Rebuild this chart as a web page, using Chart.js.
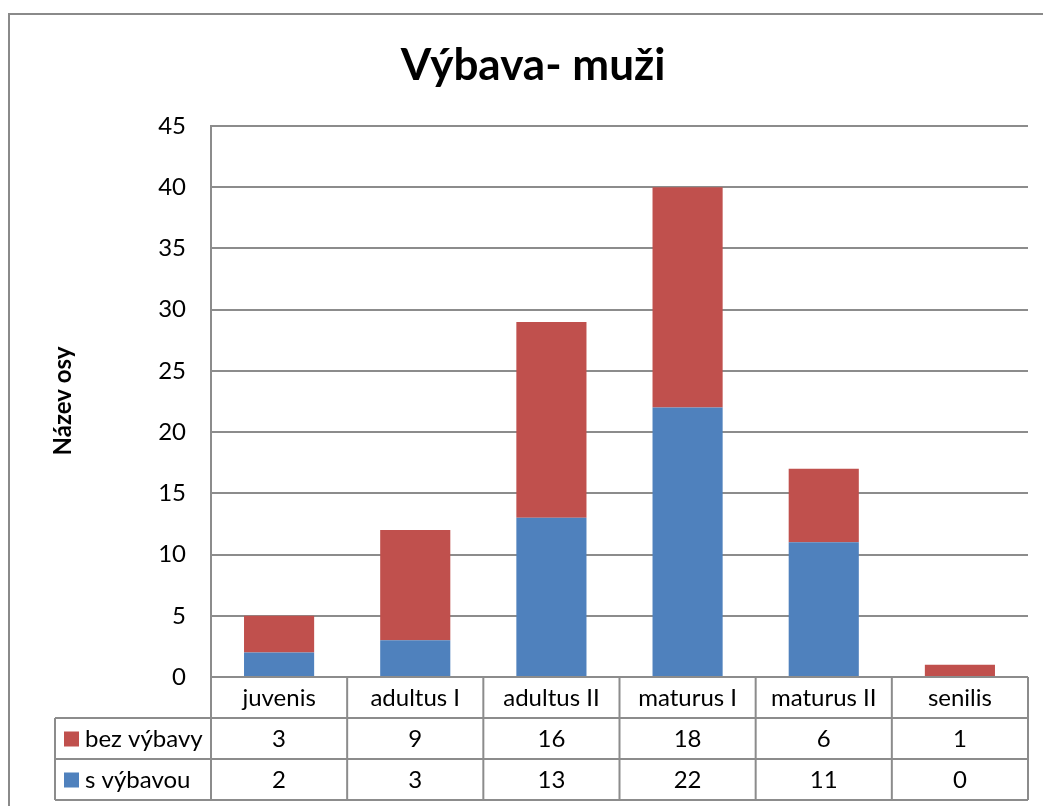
<!DOCTYPE html>
<html>
<head>
<meta charset="utf-8">
<script src="https://cdn.jsdelivr.net/npm/chart.js@4.4.1/dist/chart.umd.min.js"></script>
<style>
html,body{margin:0;padding:0;background:#fff;}
#wrap{width:1043px;height:806px;position:relative;}
</style>
</head>
<body>
<div id="wrap"><canvas id="c" width="1043" height="806"></canvas></div>
<script>
const categories = ["juvenis", "adultus I", "adultus II", "maturus I", "maturus II", "senilis"];
const sVybavou = [2, 3, 13, 22, 11, 0];
const bezVybavy = [3, 9, 16, 18, 6, 1];
const seriesNames = ["bez výbavy", "s výbavou"];
const chartTitle = "Výbava- muži";
const yAxisTitle = "Název osy";

const RED = "#C0504D";
const BLUE = "#4F81BD";
const GRID = "#8C8C8C";
const FONT = "Lato, 'Open Sans', sans-serif";

const tablePlugin = {
  id: "excelTable",
  afterDraw(chart) {
    const ctx = chart.ctx;
    const xs = chart.scales.x;
    const area = chart.chartArea;
    const rowH = 41;
    const tableLeft = 55;
    const top = area.bottom;
    const n = categories.length;
    const catW = (area.right - area.left) / n;
    ctx.save();
    // outer chart border
    ctx.strokeStyle = "#8A8A8A";
    ctx.lineWidth = 2;
    ctx.beginPath();
    ctx.moveTo(9, 820);
    ctx.lineTo(9, 14);
    ctx.lineTo(1060, 14);
    ctx.stroke();

    // title
    ctx.fillStyle = "#000";
    ctx.font = "bold 44px " + FONT;
    ctx.textAlign = "center";
    ctx.textBaseline = "middle";
    ctx.fillText(chartTitle, 533, 66);

    // y axis title
    ctx.save();
    ctx.translate(63, 401);
    ctx.rotate(-Math.PI / 2);
    ctx.font = "bold 24px " + FONT;
    ctx.fillText(yAxisTitle, 0, 0);
    ctx.restore();

    // table lines
    ctx.strokeStyle = GRID;
    ctx.lineWidth = 2;
    ctx.beginPath();
    ctx.moveTo(area.left, top); ctx.lineTo(area.right, top);
    for (let r = 1; r <= 3; r++) {
      ctx.moveTo(tableLeft, top + r * rowH);
      ctx.lineTo(area.right, top + r * rowH);
    }
    ctx.moveTo(tableLeft, top + rowH); ctx.lineTo(tableLeft, top + 3 * rowH);
    for (let i = 0; i <= n; i++) {
      const x = area.left + i * catW;
      ctx.moveTo(x, top); ctx.lineTo(x, top + 3 * rowH);
    }
    ctx.stroke();

    // texts
    ctx.fillStyle = "#000";
    ctx.font = "24px " + FONT;
    ctx.textAlign = "center";
    ctx.textBaseline = "middle";
    categories.forEach((c, i) => {
      const x = xs.getPixelForValue(i);
      ctx.fillText(c, x, top + rowH / 2 + 1);
      ctx.fillText(String(bezVybavy[i]), x, top + rowH * 1.5 + 1);
      ctx.fillText(String(sVybavou[i]), x, top + rowH * 2.5 + 1);
    });
    const rows = [[seriesNames[0], RED], [seriesNames[1], BLUE]];
    rows.forEach((r, k) => {
      const cy = top + rowH * (1.5 + k);
      ctx.fillStyle = r[1];
      ctx.fillRect(64, cy - 7, 15, 15);
      ctx.fillStyle = "#000";
      ctx.textAlign = "left";
      ctx.fillText(r[0], 85, cy + 1);
    });
    ctx.restore();
  }
};

new Chart(document.getElementById("c"), {
  type: "bar",
  data: {
    labels: categories,
    datasets: [
      { label: seriesNames[1], data: sVybavou, backgroundColor: BLUE, barPercentage: 0.515, categoryPercentage: 1 },
      { label: seriesNames[0], data: bezVybavy, backgroundColor: RED, barPercentage: 0.515, categoryPercentage: 1 }
    ]
  },
  options: {
    responsive: false,
    animation: false,
    events: [],
    layout: { padding: { left: 0, top: 126, right: 15, bottom: 129 } },
    plugins: { legend: { display: false }, tooltip: { enabled: false }, title: { display: false } },
    scales: {
      x: { stacked: true, display: false },
      y: {
        stacked: true,
        min: 0, max: 45,
        afterFit(s) { s.width = 211; },
        ticks: { stepSize: 5, padding: 25, color: "#000", font: { family: FONT, size: 24 } },
        grid: { color: GRID, lineWidth: 2, drawTicks: false },
        border: { display: true, color: GRID, width: 2 }
      }
    }
  },
  plugins: [tablePlugin]
});
</script>
</body>
</html>
